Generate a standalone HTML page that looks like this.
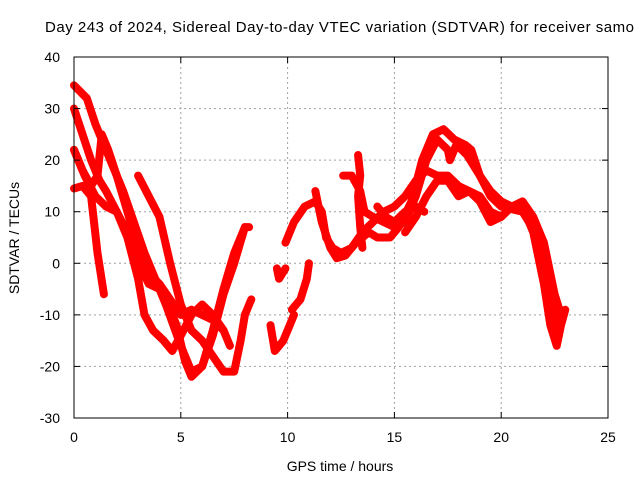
<!DOCTYPE html>
<html><head><meta charset="utf-8"><style>
body{margin:0;background:#fff}
svg{display:block;font-family:"Liberation Sans",sans-serif}
</style></head><body>
<svg id="chart" width="640" height="480" viewBox="0 0 640 480">
<rect x="0" y="0" width="640" height="480" fill="#fff"/>
<text x="45" y="32" font-size="15" textLength="589" lengthAdjust="spacing">Day 243 of 2024, Sidereal Day-to-day VTEC variation (SDTVAR) for receiver samo</text>
<text x="340" y="471" font-size="14" text-anchor="middle">GPS time / hours</text>
<text transform="translate(19,238) rotate(-90)" font-size="14" text-anchor="middle">SDTVAR / TECUs</text>
<g id="grid"></g>
<g id="series"></g>
<rect x="74" y="57" width="534" height="361" fill="none" stroke="#000" stroke-width="1"/>
<g id="ticks"></g>
</svg>
<script>
const xTicks=[0,5,10,15,20,25];
const yTicks=[-30,-20,-10,0,10,20,30,40];
const track1=[[0,34.5],[0.6,32],[1,27],[1.4,23],[1.8,19],[2.3,14],[2.8,8],[3.3,2],[3.8,-3],[4.3,-7],[4.8,-12],[5.2,-19],[5.5,-22],[6,-20],[6.5,-13],[7,-5],[7.5,2],[8,7],[8.2,7]];
const track2=[[0,30],[0.4,25],[0.8,20],[1.2,16],[1.5,14],[2,10],[2.5,5],[3,-3],[3.3,-10],[3.7,-13],[4.2,-15],[4.6,-17],[5,-14],[5.5,-10],[6,-8],[6.5,-10],[7,-13],[7.3,-16]];
const track3=[[0,22],[0.4,18],[0.8,15],[1.1,17],[1.3,25],[1.6,22],[2,17],[2.5,10],[3,3],[3.5,-2],[4,-4],[4.5,-7],[5,-10],[5.5,-9],[6,-10],[6.5,-11],[7,-13]];
const track4=[[0,14.5],[0.4,15],[0.8,13],[1.1,2],[1.4,-6]];
const track5=[[0,22],[0.5,17],[1,13],[1.5,11],[2,10],[2.5,6],[3,0],[3.5,-4],[4,-5],[4.3,-8],[5,-16],[5.5,-21],[6,-20],[6.5,-14],[7,-6],[7.5,0],[8,7]];
const track6=[[3,17],[3.5,13],[4,9],[4.5,0],[5,-8],[5.5,-13],[6,-15],[6.5,-18],[7,-21],[7.5,-21],[7.8,-15],[8,-10],[8.3,-7]];
const track7=[[9.2,-12],[9.4,-17],[9.8,-15],[10.1,-12],[10.3,-10]];
const track8=[[10.2,-9],[10.6,-7],[10.9,-3],[11.0,0]];
const track9=[[9.9,4],[10.3,8],[10.8,11],[11.3,12],[11.6,10],[11.8,5],[12.1,3],[12.5,2],[13,3],[13.5,6],[14,8],[14.5,10],[15,11],[15.5,13],[16,16],[16.5,18],[17,17],[17.5,17],[18,15],[18.5,14],[19,13],[19.5,10],[20,9],[20.5,11],[21,12],[21.5,9],[22,4],[22.5,-6],[22.8,-10]];
const track10=[[11.3,14],[11.6,8],[12,3],[12.3,1],[12.7,1.5],[13.2,4],[13.8,6],[14.2,5],[14.8,5],[15.2,7],[15.8,12],[16.3,20],[16.8,25],[17.3,26],[17.8,24],[18.3,23],[18.6,22],[19,17],[19.5,14],[20,12],[20.5,11],[21,11],[21.5,6],[22,-4],[22.3,-12],[22.6,-16],[22.8,-12],[23,-9]];
const track11=[[12.6,17],[13,17],[13.4,14],[13.6,10],[14,9],[14.5,8],[15,7],[15.5,8],[16,13],[16.5,20],[17,24],[17.5,22],[17.6,20],[17.9,23],[18.4,21],[19,17],[19.5,13],[20,11],[21,10],[21.6,6],[22,2],[22.4,-8],[22.7,-14]];
const track12=[[13.3,21],[13.4,17],[13.3,13],[13.4,7],[13.5,3]];
const track13=[[14.2,11],[14.6,9],[15,8],[15.5,10],[16,11],[16.4,10]];
const track14=[[15.5,6],[16,9],[16.5,13],[17,16],[17.5,16],[18,13],[18.5,14],[19,12],[19.5,8],[20,9]];
const track15=[[9.5,-1],[9.6,-3],[9.9,-1]];
const tracks=[track1,track2,track3,track4,track5,track6,track7,track8,track9,track10,track11,track12,track13,track14,track15];

const X0=74,X1=608,Y0=418,Y1=57;
const xs=v=>X0+(v-0)/(25-0)*(X1-X0);
const ys=v=>Y0-(v+30)/(70)*(Y0-Y1);
const NS='http://www.w3.org/2000/svg';
const grid=document.getElementById('grid'),ticks=document.getElementById('ticks'),ser=document.getElementById('series');
function mk(tag,attrs,parent){const e=document.createElementNS(NS,tag);for(const k in attrs)e.setAttribute(k,attrs[k]);parent.appendChild(e);return e;}
xTicks.forEach(t=>{
  const x=xs(t);
  if(t>0&&t<25){const g=mk('line',{x1:x,x2:x,y1:Y1,y2:Y0,stroke:'#a0a0a0','stroke-dasharray':'2,3'},grid);
  
  }
  mk('line',{x1:x,x2:x,y1:Y0,y2:Y0-6,stroke:'#000'},ticks);
  mk('line',{x1:x,x2:x,y1:Y1,y2:Y1+6,stroke:'#000'},ticks);
  const l=mk('text',{x:x,y:Y0+24,'font-size':14,'text-anchor':'middle'},ticks);l.textContent=t;
  
  
});
yTicks.forEach(t=>{
  const y=ys(t);
  if(t>-30&&t<40){const g=mk('line',{x1:X0,x2:X1,y1:y,y2:y,stroke:'#a0a0a0','stroke-dasharray':'2,3'},grid);
  
  }
  mk('line',{x1:X0,x2:X0+6,y1:y,y2:y,stroke:'#000'},ticks);
  mk('line',{x1:X1,x2:X1-6,y1:y,y2:y,stroke:'#000'},ticks);
  const l=mk('text',{x:X0-14,y:y+5,'font-size':14,'text-anchor':'end'},ticks);l.textContent=t;
  
  
});
tracks.forEach((tr,i)=>{
  const p=mk('polyline',{points:tr.map(d=>xs(d[0])+','+ys(d[1])).join(' '),fill:'none',stroke:'#ff0000','stroke-width':8,'stroke-linejoin':'round','stroke-linecap':'round'},ser);
  
  
});
</script>
</body></html>
